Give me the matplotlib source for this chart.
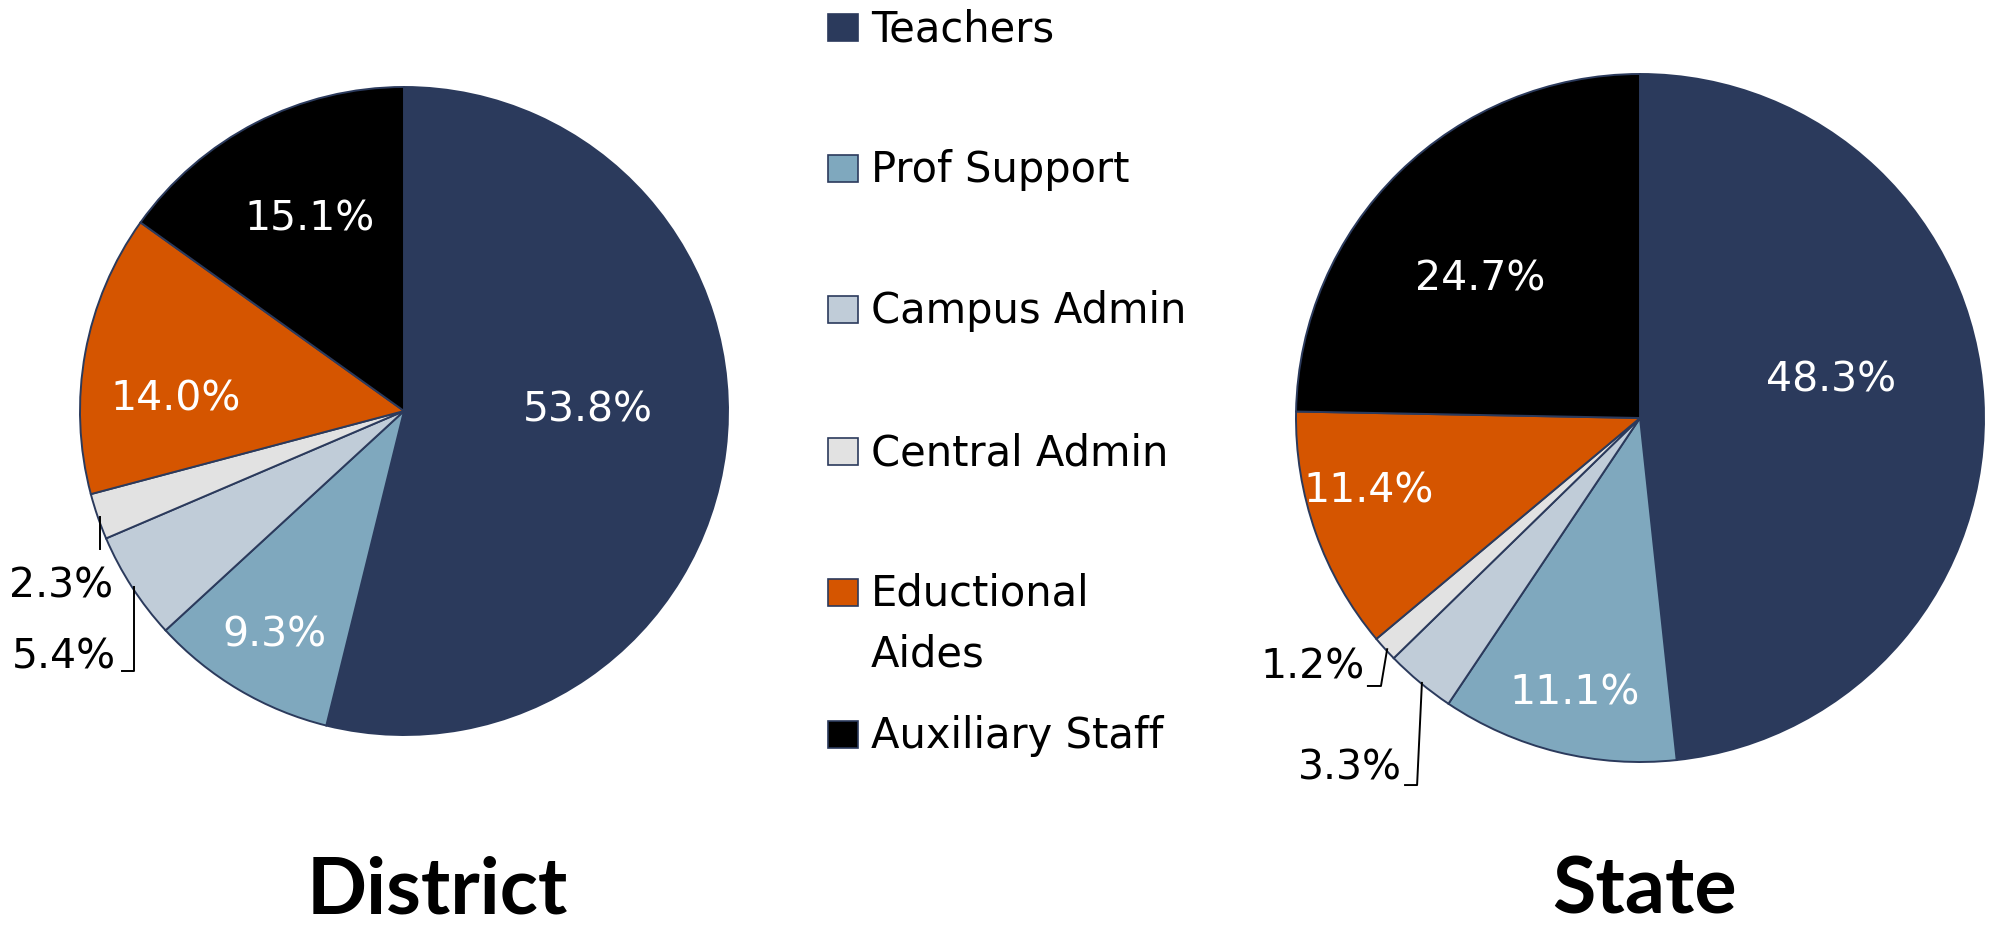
import matplotlib.pyplot as plt
from matplotlib.patches import Rectangle

# data
categories = ['Teachers', 'Prof Support', 'Campus Admin', 'Central Admin',
              'Eductional\nAides', 'Auxiliary Staff']
district = [53.8, 9.3, 5.4, 2.3, 14.0, 15.1]
state = [48.3, 11.1, 3.3, 1.2, 11.4, 24.7]

colors = ['#2B3A5C', '#7FA8BE', '#C0CCD8', '#E2E2E2', '#D55500', '#000000']
edge = '#2B3A5C'

W, H = 1997, 930
fig = plt.figure(figsize=(W / 100, H / 100), dpi=100)
plt.rcParams['font.family'] = ['DejaVu Sans']


def draw_pie(cx, cy, r, values, label_pos, label_colors, leaders, title, title_x):
    # cx, cy, r in pixels (y from top)
    pad = 1.03
    ax = fig.add_axes([(cx - r * pad) / W, (H - cy - r * pad) / H,
                       2 * r * pad / W, 2 * r * pad / H])
    ax.pie(values, colors=colors, startangle=90, counterclock=False, radius=1,
           wedgeprops=dict(edgecolor=edge, linewidth=1.4))
    ax.set_xlim(-pad, pad)
    ax.set_ylim(-pad, pad)
    ax.set_aspect('equal')
    ax.axis('off')
    for v, (x, y), c in zip(values, label_pos, label_colors):
        ax.text(x, y, f'{v:.1f}%', color=c, ha='center', va='center', fontsize=29.5)
    for xs, ys in leaders:
        ax.plot(xs, ys, color='black', lw=1.4, clip_on=False)
    fig.text(title_x / W, 1 - 913 / H, title, ha='center', va='baseline',
             fontsize=57, fontweight='bold', family='Lato')


# District
draw_pie(404, 411, 324, district,
         [(0.568, 0.003), (-0.401, -0.694), (-1.049, -0.762),
          (-1.059, -0.543), (-0.704, 0.037), (-0.290, 0.590)],
         ['white', 'white', 'black', 'black', 'white', 'white'],
         [([-0.938, -0.938], [-0.327, -0.426]),
          ([-0.833, -0.833, -0.870], [-0.543, -0.802, -0.802])],
         'District', 437)

# State
draw_pie(1640, 418, 344, state,
         [(0.555, 0.110), (-0.189, -0.802), (-0.843, -1.020),
          (-0.953, -0.724), (-0.788, -0.215), (-0.465, 0.404)],
         ['white', 'white', 'black', 'black', 'white', 'white'],
         [([-0.735, -0.753, -0.791], [-0.672, -0.779, -0.779]),
          ([-0.634, -0.648, -0.683], [-0.770, -1.067, -1.067])],
         'State', 1645)

# legend drawn by hand
row_y = [27, 168, 309, 451, 592, 734]
for cat, col, y in zip(categories, colors, row_y):
    fig.patches.append(Rectangle((828 / W, 1 - (y + 14) / H), 30 / W, 27 / H,
                                 transform=fig.transFigure, facecolor=col,
                                 edgecolor=edge, linewidth=1.2))
    for i, line in enumerate(cat.split('\n')):
        fig.text(871 / W, 1 - (y + 14 + i * 60) / H, line, ha='left',
                 va='baseline', fontsize=30)

fig.savefig('out.png', dpi=100)
